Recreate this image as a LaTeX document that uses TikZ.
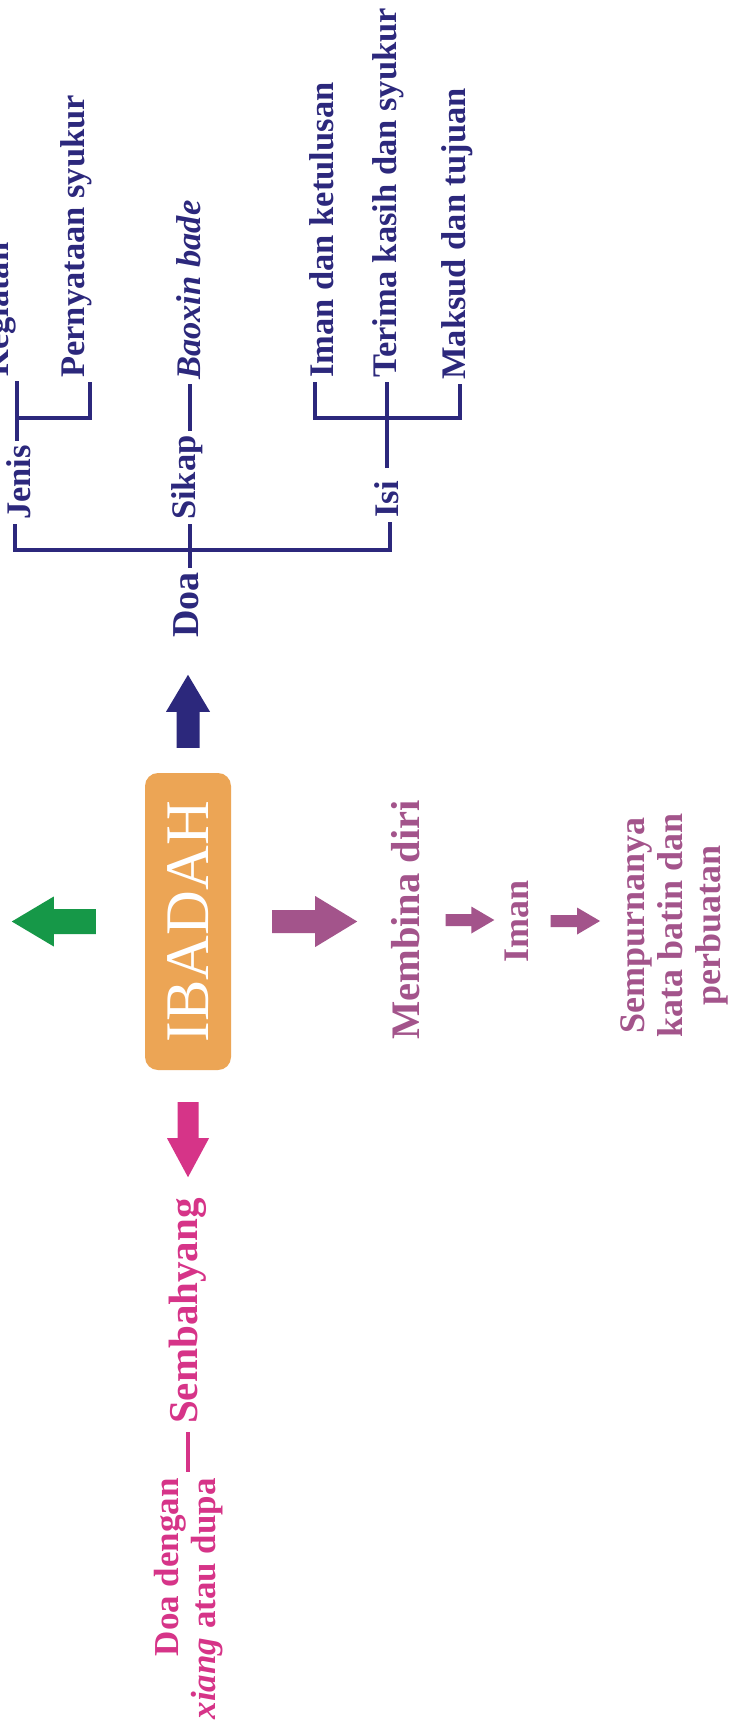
\documentclass[tikz,border=0pt]{standalone}
\usepackage{fontspec}
\setmainfont{Liberation Serif}
\usetikzlibrary{calc}
\definecolor{navy}{RGB}{44,40,124}
\definecolor{boxorange}{RGB}{236,165,85}
\definecolor{grn}{RGB}{22,152,72}
\definecolor{mauve}{RGB}{163,84,139}
\definecolor{pinkc}{RGB}{214,52,136}
% #1 from, #2 to, #3 shaft width, #4 head width, #5 head length, #6 colour
\newcommand\blockarr[6]{%
  \coordinate (hb) at ($(#2)!#5!(#1)$);
  \fill[#6] ($(#1)!#3/2!90:(#2)$) -- ($(hb)!#3/2!-90:(#1)$) -- ($(hb)!#4/2!-90:(#1)$) -- (#2)
     -- ($(hb)!#4/2!90:(#1)$) -- ($(hb)!#3/2!90:(#1)$) -- ($(#1)!#3/2!-90:(#2)$) -- cycle;}
\tikzset{
  tree/.style={draw=navy, line width=3.8pt},
  btext/.style={font=\fontsize{34.5}{40}\selectfont\bfseries, text=navy, rotate=90,
     inner xsep=4pt, inner ysep=0pt, text height=24pt, text depth=7pt},
  dtext/.style={btext, font=\fontsize{38}{44}\selectfont\bfseries, text height=26pt, text depth=8pt},
  ptext/.style={font=\fontsize{40.5}{46}\selectfont\bfseries, text=mauve, rotate=90,
     inner sep=0pt, text height=28pt, text depth=9pt},
  pstext/.style={font=\fontsize{36}{38}\selectfont\bfseries, text=mauve, rotate=90, inner sep=0pt},
  pktext/.style={font=\fontsize{41}{46}\selectfont\bfseries, text=pinkc, rotate=90,
     inner sep=0pt, text height=28pt, text depth=9pt},
  pkblock/.style={font=\fontsize{35}{37}\selectfont\bfseries, text=pinkc, rotate=90, inner sep=0pt},
  pinkline/.style={draw=pinkc, line width=4pt},
  ibox/.style={fill=boxorange, rounded corners=13pt, minimum width=86pt, minimum height=297pt,
     inner sep=0pt, text=white, font=\fontsize{62}{70}\selectfont}
}
\begin{document}
\begin{tikzpicture}[x=1pt, y=-1pt]
\useasboundingbox (0,0) rectangle (730,1731);
\fill[white] (0,0) rectangle (730,1731);
\clip (0,0) rectangle (730,1731);

% ---------- central box ----------
\node[ibox] (ib) at (188,921.5) {\rotatebox{90}{IBADAH}};

% ---------- blue tree ----------
\node[btext, anchor=west] (keg)    at (0.5,381)   {Kegiatan};
\node[btext, anchor=west] (pern)   at (75.5,382)  {Pernyataan syukur};
\node[btext, anchor=west] (jenis)  at (21.5,524)  {Jenis};
\node[btext, anchor=west] (sikap)  at (187,524)   {Sikap};
\node[btext, anchor=west] (baoxin) at (191.5,384) {\itshape Baoxin bade};
\node[btext, anchor=west] (isi)    at (389.5,522) {Isi};
\node[btext, anchor=west] (iman)   at (324.5,382) {Iman dan ketulusan};
\node[btext, anchor=west] (terima) at (387.5,382) {Terima kasih dan syukur};
\node[btext, anchor=west] (maksud) at (456.5,384) {Maksud dan tujuan};
\node[dtext, anchor=west] (doa)    at (189,642)   {Doa};

\coordinate (jA) at (17,418);  \coordinate (jB) at (90,418);
\coordinate (mL) at (15,550);  \coordinate (mC) at (190,550); \coordinate (mR) at (390,550);
\coordinate (iL) at (315,418); \coordinate (iC) at (387,418); \coordinate (iR) at (460,418);

\draw[tree] (jA |- keg.west) -- (jA |- jenis.east);
\draw[tree] (jA) -| (jB |- pern.west);
\draw[tree] (mL |- jenis.west) -- (mL) -- (mR) -- (mR |- isi.west);
\draw[tree] (mC |- sikap.west) -- (mC |- doa.east);
\draw[tree] (mC |- sikap.east) -- (mC |- baoxin.west);
\draw[tree, shorten <=9pt] (iC |- isi.east) -- (iC |- terima.west);
\draw[tree] (iL |- iman.west) -- (iL) -- (iR) -- (iR |- maksud.west);

% ---------- purple chain ----------
\node[ptext] (membina) at (410,920) {Membina diri};
\node[pstext, text height=25pt, text depth=8pt] (imanp) at (520,921) {Iman};
\node[pstext, align=center] (semp) at (674,925) {Sempurnanya\\kata batin dan\\perbuatan};

% ---------- pink branch ----------
\node[pktext] (semb) at (187.5,1311) {Sembahyang};
\node[pkblock, align=right, anchor=east] (xiang) at (189,1478) {Doa dengan\\\textit{xiang} atau dupa};
\draw[pinkline, shorten <=8pt, shorten >=6pt] (semb.west) -- (semb.west |- xiang.east);

% ---------- block arrows ----------
\coordinate (bT) at ($(ib.north)+(0,-25)$);
\coordinate (bH) at ($(ib.north)+(0,-98)$);
\blockarr{bT}{bH}{23pt}{44pt}{37pt}{navy}

\coordinate (gT) at ($(ib.west)+(-49,0)$);
\coordinate (gH) at ($(ib.west)+(-133,0)$);
\blockarr{gT}{gH}{25pt}{50pt}{42pt}{grn}

\coordinate (pT) at ($(ib.east)+(41,0)$);
\coordinate (pH) at ($(ib.east)+(126,0)$);
\blockarr{pT}{pH}{23pt}{51pt}{42pt}{mauve}

\coordinate (kT) at ($(ib.south)+(0,32)$);
\coordinate (kH) at ($(ib.south)+(0,107)$);
\blockarr{kT}{kH}{21pt}{42pt}{39pt}{pinkc}

\coordinate (s1T) at ($(membina.south)!17pt!(membina.south -| imanp.north)$);
\coordinate (s1H) at ($(membina.south -| imanp.north)!9pt!(membina.south)$);
\blockarr{s1T}{s1H}{12pt}{27pt}{23pt}{mauve}

\coordinate (s2T) at ($(imanp.south)!14pt!(imanp.south -| semp.north)$);
\coordinate (s2H) at ($(imanp.south -| semp.north)!20pt!(imanp.south)$);
\blockarr{s2T}{s2H}{12pt}{27pt}{23pt}{mauve}
\end{tikzpicture}
\end{document}
